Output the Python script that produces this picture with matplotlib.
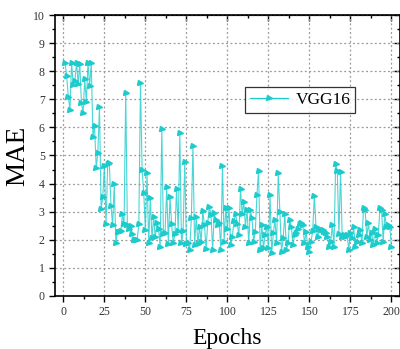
import matplotlib

matplotlib.use("Agg")
import matplotlib.pyplot as plt
from matplotlib.ticker import MultipleLocator

plt.rcParams["font.family"] = ["Liberation Serif", "DejaVu Serif"]

# validation MAE per epoch
epochs = list(range(1, 201))
mae = [
    8.30, 7.83, 7.09, 6.62, 8.30, 7.50, 7.65, 8.30, 7.55, 8.26,
    6.87, 6.51, 7.72, 6.92, 8.30, 7.47, 8.30, 5.67, 6.05, 4.55,
    5.10, 6.72, 3.08, 3.53, 4.63, 2.55, 4.68, 4.72, 3.21, 2.53,
    3.97, 1.90, 2.27, 2.27, 2.30, 2.90, 2.55, 7.24, 2.53, 2.40,
    2.50, 2.20, 2.00, 2.00, 2.00, 2.55, 7.57, 4.48, 3.65, 2.35,
    4.37, 1.87, 3.48, 2.05, 2.80, 2.10, 2.60, 2.40, 1.75, 5.96,
    2.20, 2.25, 3.87, 1.85, 3.53, 2.55, 1.87, 2.20, 3.82, 2.30,
    5.79, 1.87, 2.30, 4.78, 1.85, 1.87, 1.64, 2.76, 5.35, 1.81,
    2.80, 1.84, 2.47, 1.93, 3.02, 2.53, 1.67, 2.60, 3.18, 2.88,
    1.64, 2.94, 2.70, 2.53, 2.60, 1.64, 4.63, 1.93, 3.13, 2.40,
    3.14, 1.80, 2.10, 2.67, 2.91, 2.56, 2.17, 3.81, 2.91, 3.36,
    2.47, 3.06, 1.87, 3.06, 2.76, 1.93, 2.29, 3.59, 4.46, 1.64,
    2.53, 1.70, 2.17, 2.47, 1.70, 3.59, 1.52, 2.23, 2.70, 1.87,
    4.37, 3.00, 1.58, 2.05, 2.91, 1.64, 1.87, 2.70, 2.47, 1.80,
    2.17, 2.23, 2.40, 2.56, 2.60, 2.53, 1.87, 2.29, 1.76, 1.58,
    1.93, 2.30, 3.57, 2.47, 2.10, 2.40, 2.35, 2.35, 2.29, 2.23,
    2.10, 1.76, 1.93, 2.53, 1.76, 4.70, 4.46, 2.20, 4.42, 2.10,
    2.17, 2.10, 2.17, 1.64, 2.23, 2.05, 2.44, 1.76, 1.93, 2.17,
    2.35, 1.87, 3.12, 3.06, 2.10, 2.60, 2.00, 2.23, 1.80, 2.40,
    1.87, 2.17, 3.12, 3.06, 1.93, 2.90, 2.47, 2.53, 2.47, 1.76,
]
model_name = "VGG16"
line_color = "#1ccccc"

fig = plt.figure(figsize=(4.0, 3.49), dpi=100)
ax = fig.add_axes([0.138, 0.152, 0.861, 0.805])

ax.plot(epochs, mae, color=line_color, lw=0.8, alpha=0.8, zorder=2)
ax.plot(epochs, mae, ls="none", marker=">", ms=3.6, color=line_color,
        mec=line_color, zorder=3, label="_nolegend_")
# legend proxy with line and marker together
ax.plot([], [], color=line_color, lw=0.9, marker=">", ms=3.6, label=model_name)

ax.set_xlim(-5, 205)
ax.set_ylim(0, 10)
ax.xaxis.set_major_locator(MultipleLocator(25))
ax.xaxis.set_minor_locator(MultipleLocator(12.5))
ax.yaxis.set_major_locator(MultipleLocator(1))
ax.yaxis.set_minor_locator(MultipleLocator(0.5))
ax.grid(True, which="major", ls=(0, (1.5, 2)), color="#999999", lw=0.9)

for side in ax.spines.values():
    side.set_linewidth(1.2)
ax.tick_params(which="both", direction="out", labelsize=8.5, width=1.0,
               labelcolor="#333333")
ax.tick_params(which="major", length=4)
ax.tick_params(which="minor", length=2.5)

# inward ticks on the top and right edges
top = ax.secondary_xaxis("top")
top.xaxis.set_major_locator(MultipleLocator(25))
top.xaxis.set_minor_locator(MultipleLocator(12.5))
top.tick_params(which="both", direction="in", labeltop=False, width=1.0)
top.tick_params(which="major", length=4)
top.tick_params(which="minor", length=2.5)
right = ax.secondary_yaxis("right")
right.yaxis.set_major_locator(MultipleLocator(1))
right.yaxis.set_minor_locator(MultipleLocator(0.5))
right.tick_params(which="both", direction="in", labelright=False, width=1.0)
right.tick_params(which="major", length=4)
right.tick_params(which="minor", length=2.5)

ax.set_xlabel("Epochs", fontsize=17, labelpad=7)
ax.set_ylabel("MAE", fontsize=19.5, labelpad=2)

leg = ax.legend(loc="upper left", bbox_to_anchor=(0.551, 0.744), fontsize=12.5,
                frameon=True, fancybox=False, edgecolor="black",
                borderaxespad=0, handlelength=2.2, borderpad=0.3,
                handletextpad=0.4)
leg.get_frame().set_linewidth(0.9)

fig.savefig("out.png", dpi=100)
